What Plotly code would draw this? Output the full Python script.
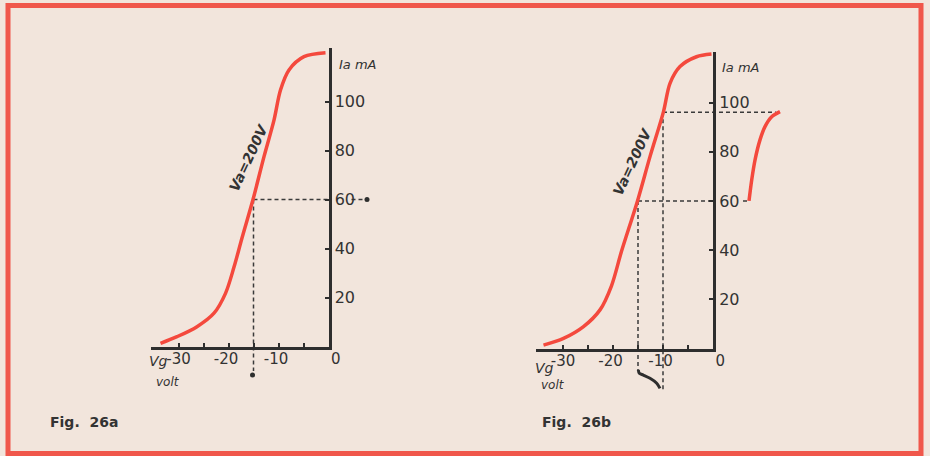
import plotly.graph_objects as go

W, H = 930, 456

# ---------------- data ----------------
# Fig. 26a : Ia (mA) against Vg (volt), Va = 200 V
vg_a = [-33.6, -30.3, -26.3, -22.9, -20.6, -18.9, -17.3, -15.1, -12.9, -10.9, -9.6, -7.9, -4.9, -0.6]
ia_a = [1.3, 4.0, 8.1, 13.6, 21.7, 32.4, 44.3, 60.0, 77.5, 92.4, 104.7, 112.9, 118.3, 119.9]

# Fig. 26b : same characteristic
vg_b = [-33.9, -29.9, -25.9, -22.6, -20.3, -18.3, -15.1, -12.6, -9.9, -8.6, -6.6, -3.3, -0.3]
ia_b = [1.4, 4.1, 8.9, 15.7, 25.5, 39.5, 60.0, 78.0, 96.3, 107.8, 114.6, 118.6, 119.7]

# output current excursion drawn right of the axis in 26b
out_t = [7.2, 7.74, 8.4, 9.4, 10.4, 11.74, 13.4]
out_ia = [60.0, 68.5, 76.6, 84.8, 90.2, 94.2, 96.3]

# grid voltage excursion drawn below the axis in 26b
in_vg = [-14.94, -14.74, -13.94, -12.6, -11.26, -10.6]
in_t = [-8.7, -10.1, -10.8, -12.1, -14.1, -16.2]

# operating points
op_vg, op_ia = -15, 60
hi_vg, hi_ia = -10, 96

x_tick_vals = [-30, -25, -20, -15, -10, -5, 0]
x_tick_text = ["-30", "", "-20\u00a0", "", "-10\u00a0", "", "\u00a0\u00a0\u00a00"]
y_tick_vals = [20, 40, 60, 80, 100]
y_tick_text = ["20", "40", "60", "80", "100"]

# ---------------- styling ----------------
BG = "#f2e5dc"
RED = "#f4493d"
BORDER = "#f0574b"
INK = "#2e2e2e"
TXT = "#333333"
FONT = "DejaVu Sans"
DASH = "4px,3px"


def dom(x0px, y0px, sx, sy, xr, yr):
    xd = [(x0px + xr[0] * sx) / W, (x0px + xr[1] * sx) / W]
    yd = [1 - (y0px - yr[0] * sy) / H, 1 - (y0px - yr[1] * sy) / H]
    return xd, yd


fig = go.Figure()

panels = [
    dict(x0=328.5, y0=346.5, sx=5.0, sy=2.45, fxr=[-35.6, 0], fyr=[0, 122]),
    dict(x0=713.0, y0=348.5, sx=5.0, sy=2.46, fxr=[-35.4, 0], fyr=[0, 120.6]),
]
wide_xr = [-40, 16]
wide_yr = [-25, 128]

layout_axes = {}
for i, p in enumerate(panels):
    wn = 2 * i + 1
    fn = 2 * i + 2
    wxd, wyd = dom(p["x0"], p["y0"], p["sx"], p["sy"], wide_xr, wide_yr)
    fxd, fyd = dom(p["x0"], p["y0"], p["sx"], p["sy"], p["fxr"], p["fyr"])
    wk = "" if wn == 1 else str(wn)
    layout_axes["xaxis" + wk] = dict(domain=wxd, range=wide_xr, visible=False,
                                     anchor="y" + wk, automargin=False)
    layout_axes["yaxis" + wk] = dict(domain=wyd, range=wide_yr, visible=False,
                                     anchor="x" + wk, automargin=False)
    fk = str(fn)
    layout_axes["xaxis" + fk] = dict(
        domain=fxd, range=p["fxr"], anchor="y" + fk, automargin=False,
        showline=True, linecolor=INK, linewidth=3,
        showgrid=False, zeroline=False,
        ticks="inside", ticklen=4, tickwidth=2, tickcolor=INK,
        tickvals=x_tick_vals, ticktext=x_tick_text,
        tickfont=dict(family=FONT, size=15, color=TXT),
        ticklabelstandoff=-4,
    )
    layout_axes["yaxis" + fk] = dict(
        domain=fyd, range=p["fyr"], anchor="x" + fk, side="right", automargin=False,
        showline=True, linecolor=INK, linewidth=3,
        showgrid=False, zeroline=False,
        ticks="inside", ticklen=4, tickwidth=2, tickcolor=INK,
        tickvals=y_tick_vals, ticktext=y_tick_text,
        tickfont=dict(family=FONT, size=16, color=TXT),
        ticklabelstandoff=0,
    )
    fig.add_trace(go.Scatter(x=[None], y=[None], xaxis="x" + fk, yaxis="y" + fk,
                             mode="lines", showlegend=False, hoverinfo="skip"))


def dashed(x, y, xa, ya):
    fig.add_trace(go.Scatter(x=x, y=y, xaxis=xa, yaxis=ya, mode="lines",
                             line=dict(color="#3a3a3a", width=1.5, dash=DASH),
                             showlegend=False, hoverinfo="skip"))


def dot(x, y, xa, ya):
    fig.add_trace(go.Scatter(x=[x], y=[y], xaxis=xa, yaxis=ya, mode="markers",
                             marker=dict(color=INK, size=5), showlegend=False,
                             hoverinfo="skip", cliponaxis=False))


# ---------------- panel a ----------------
dashed([op_vg, 0], [op_ia, op_ia], "x", "y")
dashed([op_vg, op_vg], [op_ia, -10], "x", "y")
dashed([4.6, 6.8], [op_ia, op_ia], "x", "y")
dot(7.7, op_ia, "x", "y")
dot(op_vg - 0.2, -11.6, "x", "y")
fig.add_trace(go.Scatter(x=vg_a, y=ia_a, xaxis="x", yaxis="y", mode="lines",
                         line=dict(color=RED, width=3.5, shape="spline", smoothing=0.9),
                         showlegend=False, hoverinfo="skip"))

# ---------------- panel b ----------------
dashed([op_vg, 0], [op_ia, op_ia], "x3", "y3")
dashed([6.0, 7.2], [op_ia, op_ia], "x3", "y3")
dashed([hi_vg, 12.6], [hi_ia, hi_ia], "x3", "y3")
dashed([op_vg, op_vg], [op_ia, -8.7], "x3", "y3")
dashed([hi_vg, hi_vg], [hi_ia, -17.0], "x3", "y3")
fig.add_trace(go.Scatter(x=vg_b, y=ia_b, xaxis="x3", yaxis="y3", mode="lines",
                         line=dict(color=RED, width=3.5, shape="spline", smoothing=0.9),
                         showlegend=False, hoverinfo="skip"))
fig.add_trace(go.Scatter(x=out_t, y=out_ia, xaxis="x3", yaxis="y3", mode="lines",
                         line=dict(color=RED, width=3.5, shape="spline", smoothing=0.9),
                         showlegend=False, hoverinfo="skip"))
fig.add_trace(go.Scatter(x=in_vg, y=in_t, xaxis="x3", yaxis="y3", mode="lines",
                         line=dict(color=INK, width=3, shape="spline", smoothing=0.8),
                         showlegend=False, hoverinfo="skip"))

# ---------------- texts ----------------
ann = []
for xa, ya, lab_x, lab_y, ia_x, ia_y, vg_x, vg_y, vo_x, vo_y in [
    ("x", "y", -16.0, 76.8, 1.6, 115.3, -34.0, -6.1, -32.1, -14.5),
    ("x3", "y3", -16.2, 75.9, 1.4, 114.2, -33.8, -7.9, -32.0, -14.8),
]:
    ann.append(dict(x=lab_x, y=lab_y, xref=xa, yref=ya, text="<b><i>Va=200V</i></b>",
                    textangle=-65, showarrow=False,
                    font=dict(family=FONT, size=14, color=TXT)))
    ann.append(dict(x=ia_x, y=ia_y, xref=xa, yref=ya, text="<i>Ia mA</i>",
                    xanchor="left", showarrow=False,
                    font=dict(family=FONT, size=13, color=TXT)))
    ann.append(dict(x=vg_x, y=vg_y, xref=xa, yref=ya, text="<i>Vg</i>",
                    showarrow=False, font=dict(family=FONT, size=14, color=TXT)))
    ann.append(dict(x=vo_x, y=vo_y, xref=xa, yref=ya, text="<i>volt</i>",
                    showarrow=False, font=dict(family=FONT, size=12, color=TXT)))

for txt, xp in [("Fig.  26a", 48), ("Fig.  26b", 540)]:
    ann.append(dict(x=xp / W, y=1 - 422 / H, xref="paper", yref="paper", text="<b>" + txt + "</b>",
                    xanchor="left", yanchor="middle", showarrow=False,
                    font=dict(family=FONT, size=14, color=TXT)))

fig.update_layout(
    width=W, height=H, autosize=False,
    margin=dict(l=0, r=0, t=0, b=0, pad=0),
    paper_bgcolor=BG, plot_bgcolor="rgba(0,0,0,0)",
    showlegend=False,
    annotations=ann,
    shapes=[dict(type="rect", xref="paper", yref="paper",
                 x0=8 / W, x1=921 / W, y0=1 - 453.5 / H, y1=1 - 5.5 / H,
                 line=dict(color=BORDER, width=5), layer="above")],
    **layout_axes,
)

fig.write_html(
    "out.html",
    config={"displayModeBar": False, "responsive": False},
    post_script=(
        "document.body.style.margin='0';document.body.style.padding='0';"
        "document.body.style.overflow='hidden';"
    ),
)
